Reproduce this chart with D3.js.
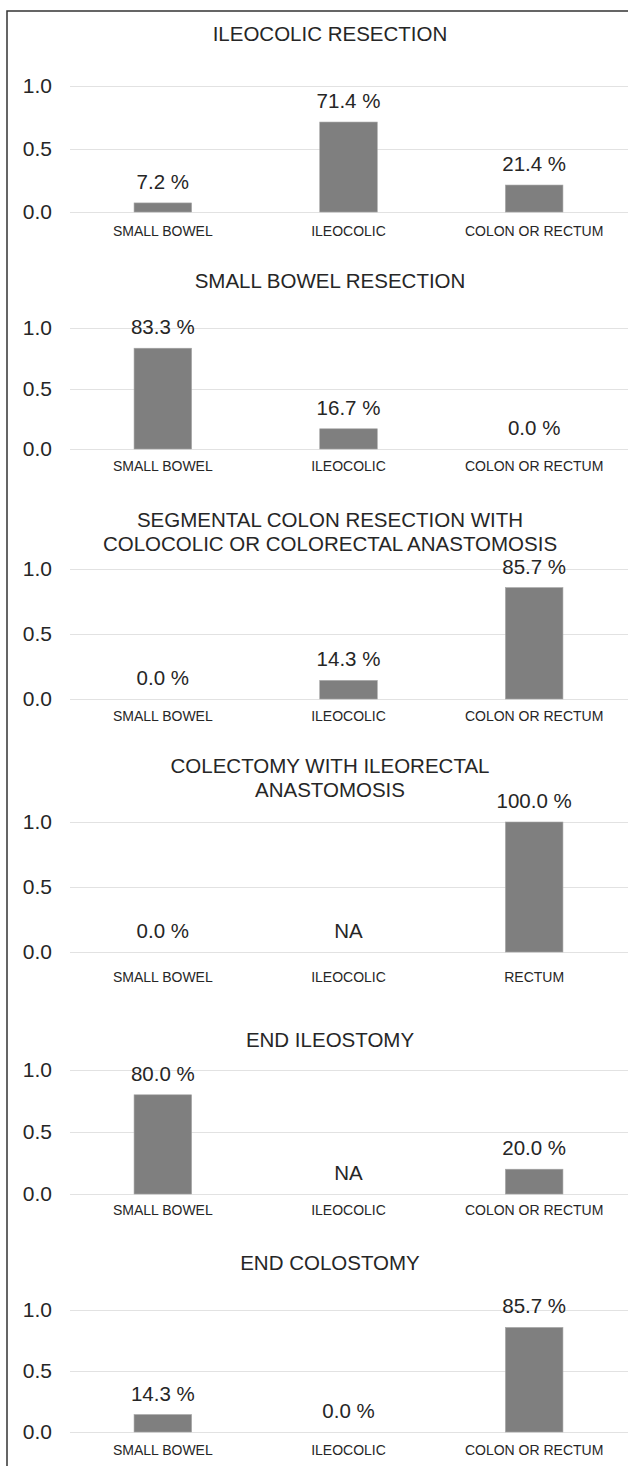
<!DOCTYPE html>
<html>
<head>
<meta charset="utf-8">
<script src="https://cdn.jsdelivr.net/npm/d3@7"></script>
<style>
  body { margin: 0; background: #fff; }
  text { font-family: "Liberation Sans", Arial, sans-serif; fill: #262626; }
</style>
</head>
<body>
<div id="chart-container"></div>
<script>
// Chart data, one entry per panel
var titles = [
  ['ILEOCOLIC RESECTION'],
  ['SMALL BOWEL RESECTION'],
  ['SEGMENTAL COLON RESECTION WITH', 'COLOCOLIC OR COLORECTAL ANASTOMOSIS'],
  ['COLECTOMY WITH ILEORECTAL', 'ANASTOMOSIS'],
  ['END ILEOSTOMY'],
  ['END COLOSTOMY']
];
var categories = [
  ['SMALL BOWEL', 'ILEOCOLIC', 'COLON OR RECTUM'],
  ['SMALL BOWEL', 'ILEOCOLIC', 'COLON OR RECTUM'],
  ['SMALL BOWEL', 'ILEOCOLIC', 'COLON OR RECTUM'],
  ['SMALL BOWEL', 'ILEOCOLIC', 'RECTUM'],
  ['SMALL BOWEL', 'ILEOCOLIC', 'COLON OR RECTUM'],
  ['SMALL BOWEL', 'ILEOCOLIC', 'COLON OR RECTUM']
];
// null = NA
var values = [
  [0.072, 0.714, 0.214],
  [0.833, 0.167, 0.0],
  [0.0, 0.143, 0.857],
  [0.0, null, 1.0],
  [0.8, null, 0.2],
  [0.143, 0.0, 0.857]
];
var yTicks = [0, 0.5, 1.0];

// Layout of each panel (pixel positions, not data)
var panelLayout = [
  {titleY: [41], top: 86, base: 212, catY: 236},
  {titleY: [288], top: 328, base: 449, catY: 471},
  {titleY: [527, 551], top: 569, base: 699, catY: 721},
  {titleY: [773, 797], top: 822, base: 952, catY: 982},
  {titleY: [1047], top: 1070, base: 1194, catY: 1215},
  {titleY: [1270], top: 1310, base: 1432, catY: 1455}
];

var width = 628;
var height = 1466;
var plotLeft = 70;
var plotRight = 627;
var titleX = 330;

var svg = d3.select('#chart-container').append('svg')
  .attr('width', width)
  .attr('height', height);

// frame (cropped on the right and bottom)
svg.append('path')
  .attr('d', 'M7,' + height + 'V11H' + width)
  .attr('fill', 'none')
  .attr('stroke', '#333')
  .attr('stroke-width', 1.5);

var fmt = d3.format('.1f');

panelLayout.forEach(function(lay, i) {
  var g = svg.append('g');

  var x = d3.scaleBand()
    .domain(categories[i])
    .range([plotLeft, plotRight])
    .paddingInner(0.69)
    .paddingOuter(0.345);

  var y = d3.scaleLinear()
    .domain([0, 1])
    .range([lay.base, lay.top]);

  g.selectAll('text.title')
    .data(titles[i])
    .enter().append('text')
      .attr('class', 'title')
      .attr('x', titleX)
      .attr('y', function(d, j) { return lay.titleY[j]; })
      .attr('text-anchor', 'middle')
      .style('font-size', '20.5px')
      .text(function(d) { return d; });

  // gridlines
  g.selectAll('line.grid')
    .data(yTicks)
    .enter().append('line')
      .attr('x1', plotLeft)
      .attr('x2', width)
      .attr('y1', function(d) { return Math.round(y(d)) + 0.5; })
      .attr('y2', function(d) { return Math.round(y(d)) + 0.5; })
      .attr('stroke', '#e2e2e2')
      .attr('stroke-width', 1);

  // y axis labels
  var yAxis = d3.axisLeft(y)
    .tickValues(yTicks)
    .tickFormat(fmt)
    .tickSize(0)
    .tickPadding(0);

  g.append('g')
    .attr('transform', 'translate(52,0)')
    .call(yAxis)
    .call(function(ax) {
      ax.select('.domain').remove();
      ax.selectAll('text')
        .style('font-size', '21px')
        .style('font-family', '"Liberation Sans", Arial, sans-serif')
        .attr('fill', '#262626');
    });

  var rows = categories[i].map(function(c, j) {
    return {cat: c, value: values[i][j]};
  });

  g.selectAll('rect')
    .data(rows.filter(function(d) { return d.value; }))
    .enter().append('rect')
      .attr('x', function(d) { return x(d.cat); })
      .attr('y', function(d) { return y(d.value); })
      .attr('width', x.bandwidth())
      .attr('height', function(d) { return lay.base - y(d.value); })
      .attr('fill', '#7f7f7f')
      .attr('stroke', '#a6a6a6')
      .attr('stroke-width', 0.6);

  // value labels
  g.selectAll('text.value')
    .data(rows)
    .enter().append('text')
      .attr('class', 'value')
      .attr('x', function(d) { return x(d.cat) + x.bandwidth() / 2; })
      .attr('y', function(d) { return y(d.value || 0) - 14; })
      .attr('text-anchor', 'middle')
      .style('font-size', '20.5px')
      .text(function(d) { return d.value === null ? 'NA' : fmt(d.value * 100) + ' %'; });

  // category labels
  g.selectAll('text.cat')
    .data(rows)
    .enter().append('text')
      .attr('class', 'cat')
      .attr('x', function(d) { return x(d.cat) + x.bandwidth() / 2; })
      .attr('y', lay.catY)
      .attr('text-anchor', 'middle')
      .style('font-size', '14px')
      .text(function(d) { return d.cat; });
});
</script>
</body>
</html>
